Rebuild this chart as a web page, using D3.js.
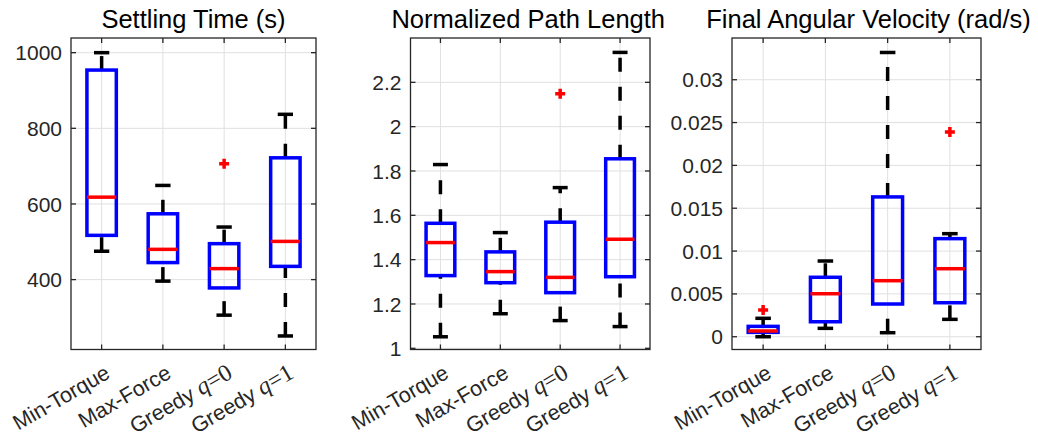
<!DOCTYPE html>
<html>
<head>
<meta charset="utf-8">
<script src="https://cdn.jsdelivr.net/npm/d3@7"></script>
<style>
  html, body { margin: 0; padding: 0; background: #fff; }
  svg { display: block; }
</style>
</head>
<body>
<svg id="chart" width="1038" height="438"></svg>
<script>
// Controllers compared in every panel
const categories = ["Min-Torque", "Max-Force", "Greedy q=0", "Greedy q=1"];

// Settling time (s): whisker ends, quartiles, medians, outliers
const settlingLow    = [475, 396, 306, 251];
const settlingQ1     = [517, 445, 378, 435];
const settlingMedian = [618, 480, 429, 501];
const settlingQ3     = [954, 574, 495, 722];
const settlingHigh   = [1000, 649, 539, 837];
const settlingOutliers = [[], [], [706], []];
const settlingTicks  = [400, 600, 800, 1000];
const settlingTickLabels = ["400", "600", "800", "1000"];

// Normalized path length
const pathLow    = [1.052, 1.156, 1.125, 1.098];
const pathQ1     = [1.328, 1.296, 1.251, 1.323];
const pathMedian = [1.477, 1.346, 1.320, 1.492];
const pathQ3     = [1.564, 1.435, 1.569, 1.855];
const pathHigh   = [1.829, 1.522, 1.725, 2.335];
const pathOutliers = [[], [], [2.149], []];
const pathTicks  = [1, 1.2, 1.4, 1.6, 1.8, 2, 2.2];
const pathTickLabels = ["1", "1.2", "1.4", "1.6", "1.8", "2", "2.2"];

// Final angular velocity (rad/s)
const omegaLow    = [0.0000, 0.00098, 0.00047, 0.00203];
const omegaQ1     = [0.00051, 0.00175, 0.00382, 0.00397];
const omegaMedian = [0.00067, 0.00502, 0.00654, 0.00794];
const omegaQ3     = [0.00121, 0.00694, 0.01632, 0.01145];
const omegaHigh   = [0.00215, 0.00884, 0.03318, 0.01203];
const omegaOutliers = [[0.00312], [], [], [0.02391]];
const omegaTicks  = [0, 0.005, 0.01, 0.015, 0.02, 0.025, 0.03];
const omegaTickLabels = ["0", "0.005", "0.01", "0.015", "0.02", "0.025", "0.03"];

const panels = [
  { title: "Settling Time (s)", low: settlingLow, q1: settlingQ1, med: settlingMedian,
    q3: settlingQ3, high: settlingHigh, out: settlingOutliers,
    ticks: settlingTicks, tickLabels: settlingTickLabels, domain: [215.2, 1038.8],
    left: 71, right: 316, titleShift: 0 },
  { title: "Normalized Path Length", low: pathLow, q1: pathQ1, med: pathMedian,
    q3: pathQ3, high: pathHigh, out: pathOutliers,
    ticks: pathTicks, tickLabels: pathTickLabels, domain: [0.9946, 2.4],
    left: 410.5, right: 650, titleShift: -2 },
  { title: "Final Angular Velocity (rad/s)", low: omegaLow, q1: omegaQ1, med: omegaMedian,
    q3: omegaQ3, high: omegaHigh, out: omegaOutliers,
    ticks: omegaTicks, tickLabels: omegaTickLabels, domain: [-0.00149, 0.03487],
    left: 732, right: 981, titleShift: 12 }
];

const plotTop = 38, plotBottom = 349.5;
const axisColor = "#262626";
const gridColor = "#e0e0e0";
const boxColor = "#0000ff";
const medColor = "#ff0000";
const lw = 3.5;
const sans = "'Liberation Sans', Arial, Helvetica, sans-serif";
const serif = "'Liberation Serif', 'Times New Roman', serif";

const svg = d3.select("#chart");
svg.append("rect").attr("width", 1038).attr("height", 438).attr("fill", "#fff");

panels.forEach(p => {
  const g = svg.append("g");
  const x = d3.scaleLinear().domain([0.5, categories.length + 0.5]).range([p.left, p.right]);
  const y = d3.scaleLinear().domain(p.domain).range([plotBottom, plotTop]);
  const idx = d3.range(categories.length);
  const unit = x(2) - x(1);
  const boxW = 0.48 * unit;
  const capW = 0.25 * unit;

  // grid
  g.selectAll(".gy").data(p.ticks).join("line")
    .attr("x1", p.left).attr("x2", p.right)
    .attr("y1", d => y(d)).attr("y2", d => y(d))
    .attr("stroke", gridColor).attr("stroke-width", 1);
  g.selectAll(".gx").data(idx).join("line")
    .attr("x1", i => x(i + 1)).attr("x2", i => x(i + 1))
    .attr("y1", plotTop).attr("y2", plotBottom)
    .attr("stroke", gridColor).attr("stroke-width", 1);

  // whiskers, drawn from the lower value upward
  const whiskers = [];
  idx.forEach(i => {
    whiskers.push({ i, a: p.low[i], b: p.q1[i] });
    whiskers.push({ i, a: p.q3[i], b: p.high[i] });
  });
  g.selectAll(".wh").data(whiskers).join("line")
    .attr("x1", d => x(d.i + 1)).attr("x2", d => x(d.i + 1))
    .attr("y1", d => y(d.a)).attr("y2", d => y(d.b))
    .attr("stroke", "#000").attr("stroke-width", lw)
    .attr("stroke-dasharray", "14,15");

  // whisker caps
  const caps = [];
  idx.forEach(i => { caps.push({ i, v: p.low[i] }); caps.push({ i, v: p.high[i] }); });
  g.selectAll(".cap").data(caps).join("line")
    .attr("x1", d => x(d.i + 1) - capW / 2).attr("x2", d => x(d.i + 1) + capW / 2)
    .attr("y1", d => y(d.v)).attr("y2", d => y(d.v))
    .attr("stroke", "#000").attr("stroke-width", lw);

  // boxes
  g.selectAll(".box").data(idx).join("rect")
    .attr("x", i => x(i + 1) - boxW / 2).attr("width", boxW)
    .attr("y", i => y(p.q3[i])).attr("height", i => y(p.q1[i]) - y(p.q3[i]))
    .attr("fill", "none").attr("stroke", boxColor).attr("stroke-width", lw);

  // medians
  g.selectAll(".med").data(idx).join("line")
    .attr("x1", i => x(i + 1) - boxW / 2).attr("x2", i => x(i + 1) + boxW / 2)
    .attr("y1", i => y(p.med[i])).attr("y2", i => y(p.med[i]))
    .attr("stroke", medColor).attr("stroke-width", lw);

  // outliers
  const outs = [];
  idx.forEach(i => p.out[i].forEach(v => outs.push({ i, v })));
  g.selectAll(".out").data(outs).join("path")
    .attr("d", d => {
      const cx = x(d.i + 1), cy = y(d.v), r = 5;
      return `M${cx - r},${cy}H${cx + r}M${cx},${cy - r}V${cy + r}`;
    })
    .attr("stroke", medColor).attr("stroke-width", lw).attr("fill", "none");

  // axes frame
  g.append("rect")
    .attr("x", p.left).attr("y", plotTop)
    .attr("width", p.right - p.left).attr("height", plotBottom - plotTop)
    .attr("fill", "none").attr("stroke", axisColor).attr("stroke-width", 1.3);

  // inward ticks on all four sides
  const tl = 5;
  p.ticks.forEach(t => {
    g.append("line").attr("x1", p.left).attr("x2", p.left + tl)
      .attr("y1", y(t)).attr("y2", y(t)).attr("stroke", axisColor).attr("stroke-width", 1.3);
    g.append("line").attr("x1", p.right).attr("x2", p.right - tl)
      .attr("y1", y(t)).attr("y2", y(t)).attr("stroke", axisColor).attr("stroke-width", 1.3);
  });
  idx.forEach(i => {
    g.append("line").attr("x1", x(i + 1)).attr("x2", x(i + 1))
      .attr("y1", plotBottom).attr("y2", plotBottom - tl).attr("stroke", axisColor).attr("stroke-width", 1.3);
    g.append("line").attr("x1", x(i + 1)).attr("x2", x(i + 1))
      .attr("y1", plotTop).attr("y2", plotTop + tl).attr("stroke", axisColor).attr("stroke-width", 1.3);
  });

  // y tick labels
  g.selectAll(".yl").data(p.ticks).join("text")
    .attr("x", p.left - 9).attr("y", d => y(d))
    .attr("dy", "0.36em")
    .attr("text-anchor", "end")
    .attr("font-family", sans).attr("font-size", 21).attr("fill", axisColor)
    .text((d, k) => p.tickLabels[k]);

  // x tick labels, rotated; the q parameter is set in serif math style
  idx.forEach(i => {
    const name = categories[i];
    const m = name.match(/^(.*?)\s(q)(=\S+)$/);
    const t = g.append("text")
      .attr("transform", `translate(${x(i + 1) + 6},${plotBottom + 21}) rotate(-30)`)
      .attr("text-anchor", "end")
      .attr("dy", "0.35em")
      .attr("font-family", sans).attr("font-size", 21.5).attr("fill", axisColor);
    if (m) {
      t.append("tspan").text(m[1] + " ");
      t.append("tspan").attr("font-family", serif).attr("font-style", "italic")
        .attr("font-size", 24).text(m[2]);
      t.append("tspan").attr("font-family", serif)
        .attr("font-size", 24).text(m[3]);
    } else {
      t.text(name);
    }
  });

  // title
  g.append("text")
    .attr("x", (p.left + p.right) / 2 + p.titleShift).attr("y", 27.5)
    .attr("text-anchor", "middle")
    .attr("font-family", sans).attr("font-size", 25.5).attr("fill", "#000")
    .text(p.title);
});
</script>
</body>
</html>
